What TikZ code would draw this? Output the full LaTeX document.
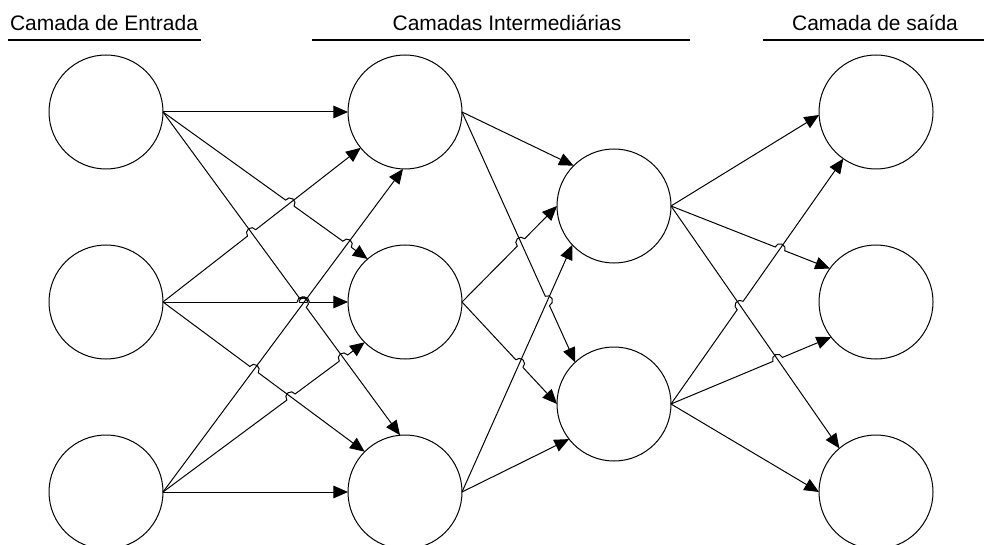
\documentclass[tikz,border=0pt]{standalone}
\usepackage{fontspec}
\setmainfont{Liberation Sans}
\usetikzlibrary{arrows.meta,calc,intersections}

% radius of the line jumps drawn where connectors cross
\newcommand\hopr{3.9pt}
% invisible geometry of a connector, used to find crossings
\newcommand\wirepath[3]{\path[name path=#1] (#2) -- (#3);}
% crossing point of connector #1 (which jumps) over connector #2
\newcommand\crossing[2]{\path[name intersections={of=#1 and #2, by={#1#2}}];}
% connector with line jumps at the listed crossing points
\newcommand\hopwire[3]{%
  \begin{scope}[even odd rule]
    \clip (-20,-20) rectangle (1010,570)
      \foreach \h in {#3}{ (\h) circle[radius=\hopr] };
    \draw[wire] (#1) -- (#2);
  \end{scope}
  \foreach \h in {#3}{
    \draw[wireline] let \p1=($(#2)-(#1)$), \n1={atan2(\y1,\x1)} in
      ($(\h)!\hopr!(#1)$) arc[start angle=\n1+180, delta angle=-180, radius=\hopr];
  }}

\begin{document}
\begin{tikzpicture}[x=0.75pt,y=-0.75pt,
  neuron/.style={circle,draw,line width=0.75pt,minimum size=85.5pt,inner sep=0pt,outer sep=0pt},
  wireline/.style={line width=0.75pt},
  wire/.style={wireline,-{Triangle[length=11pt,width=9.5pt]}},
  heading/.style={font=\fontsize{15.75}{18}\selectfont,anchor=base,inner sep=0pt},
  rule/.style={line width=2pt}]
\useasboundingbox (0,0) rectangle (984,545);

% layer headings
\node[heading] (tIn)  at (104,31) {Camada de Entrada};
\node[heading] (tMid) at (507,31) {Camadas Intermediárias};
\node[heading] (tOut) at (875,31) {Camada de saída};
\draw[rule] (8,40) -- (201,40);
\draw[rule] (312,40) -- (690,40);
\draw[rule] (763,40) -- (984,40);

% neurons
\node[neuron] (I1) at (106,112) {};
\node[neuron] (I2) at (106,302) {};
\node[neuron] (I3) at (106,492) {};
\node[neuron] (H1) at (405,112) {};
\node[neuron] (H2) at (405,302) {};
\node[neuron] (H3) at (405,492) {};
\node[neuron] (M1) at (614,206) {};
\node[neuron] (M2) at (614,404) {};
\node[neuron] (O1) at (876,112) {};
\node[neuron] (O2) at (876,302) {};
\node[neuron] (O3) at (876,492) {};

% connector geometry
\wirepath{a2}{I1.east}{H2.131}
\wirepath{a3}{I1.east}{H3.95}
\wirepath{b1}{I2.east}{H1.219}
\wirepath{b2}{I2.east}{H2.west}
\wirepath{b3}{I2.east}{H3.135}
\wirepath{c1}{I3.east}{H1.268}
\wirepath{c2}{I3.east}{H2.225}
\wirepath{d2}{H1.east}{M2.133}
\wirepath{e1}{H2.east}{M1.west}
\wirepath{e2}{H2.east}{M2.west}
\wirepath{f1}{H3.east}{M1.223}
\wirepath{g2}{M1.east}{O2.144}
\wirepath{g3}{M1.east}{O3.130}
\wirepath{h1}{M2.east}{O1.235}
\wirepath{h2}{M2.east}{O2.218}

% crossings with a jump
\crossing{a2}{b1} \crossing{a2}{c1}
\crossing{a3}{c1}
\crossing{b1}{a3}
\crossing{b2}{a3} \crossing{b2}{c1}
\crossing{c2}{a3} \crossing{c2}{b3}
\crossing{b3}{c1}
\crossing{e1}{d2} \crossing{d2}{f1} \crossing{e2}{f1}
\crossing{g2}{h1} \crossing{h1}{g3} \crossing{h2}{g3}

% input layer -> first hidden layer
\draw[wire] (I1.east) -- (H1.west);
\draw[wire] (I3.east) -- (H1.268);
\draw[wire] (I3.east) -- (H3.west);
\hopwire{I1.east}{H3.95}{a3c1}
\hopwire{I1.east}{H2.131}{a2b1,a2c1}
\hopwire{I2.east}{H1.219}{b1a3}
\hopwire{I2.east}{H2.west}{b2a3,b2c1}
\hopwire{I2.east}{H3.135}{b3c1}
\hopwire{I3.east}{H2.225}{c2a3,c2b3}

% first hidden layer -> second hidden layer
\draw[wire] (H1.east) -- (M1.135);
\draw[wire] (H3.east) -- (M1.223);
\draw[wire] (H3.east) -- (M2.218);
\hopwire{H1.east}{M2.133}{d2f1}
\hopwire{H2.east}{M1.west}{e1d2}
\hopwire{H2.east}{M2.west}{e2f1}

% second hidden layer -> output layer
\draw[wire] (M1.east) -- (O1.183);
\draw[wire] (M1.east) -- (O3.130);
\draw[wire] (M2.east) -- (O3.west);
\hopwire{M1.east}{O2.144}{g2h1}
\hopwire{M2.east}{O1.235}{h1g3}
\hopwire{M2.east}{O2.218}{h2g3}
\end{tikzpicture}
\end{document}
